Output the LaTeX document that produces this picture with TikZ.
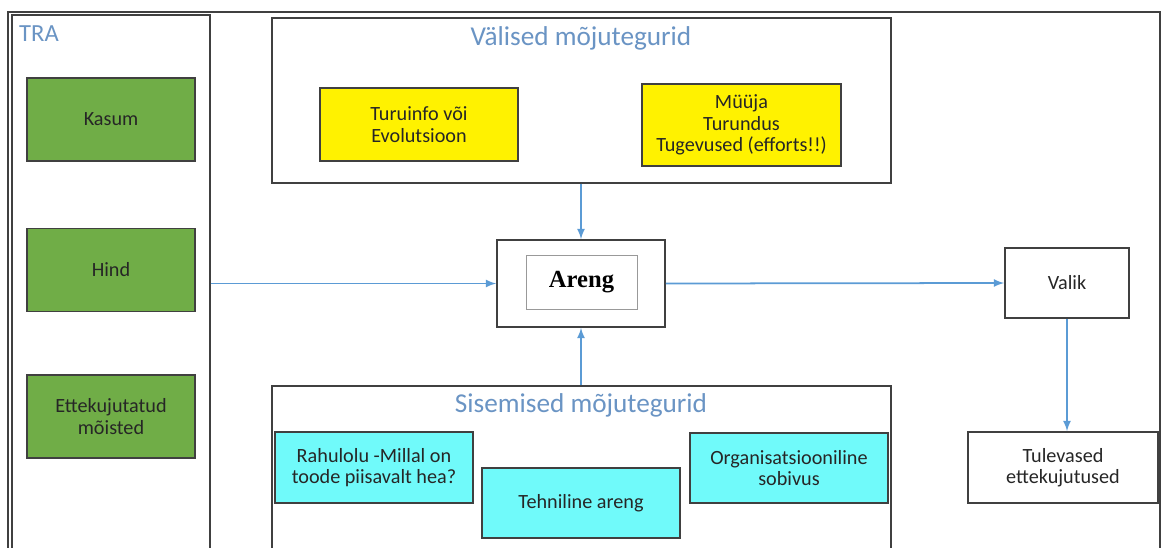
\documentclass[tikz,border=0pt]{standalone}
\usepackage{fontspec}
\setmainfont{Carlito}
\newfontfamily\arengfont{Liberation Serif}
\usepackage{tikz}
\usetikzlibrary{positioning}

\definecolor{lineblue}{HTML}{5B9BD5}
\definecolor{titleblue}{HTML}{6A94C4}
\definecolor{boxgreen}{HTML}{70AD47}
\definecolor{boxcyan}{HTML}{70FAFA}
\definecolor{boxgray}{HTML}{404040}

\tikzset{
  box/.style={draw=boxgray, line width=1pt, fill=white, align=center,
    inner sep=0pt, font=\fontsize{11.5}{12.2}\selectfont, text=black!85},
  greenbox/.style={box, fill=boxgreen, minimum width=3.36cm, minimum height=1.66cm},
  yellowbox/.style={box, fill=yellow},
  cyanbox/.style={box, fill=boxcyan, minimum width=3.96cm, minimum height=1.41cm},
  group/.style={draw=boxgray, line width=0.8pt, fill=white},
  grouptitle/.style={text=titleblue, font=\fontsize{15.5}{18}\selectfont},
  flow/.style={-latex, draw=lineblue, line width=1pt}
}

\begin{document}
\begin{tikzpicture}[x=0.02cm,y=-0.02cm]
          \clip (0,0) rectangle (1161,548);
          \useasboundingbox (0,0) rectangle (1161,548);
          \draw[boxgray, line width=0.6pt] (8,12) rectangle (1160,600);
          % TRA
          \node[group, minimum width=3.96cm, minimum height=11.4cm] (tra) at (111,300) {};
          \node[text=titleblue, font=\fontsize{14}{16}\selectfont, anchor=west] (tratitle) at (13,34) {TRA};
          \node[greenbox] (kasum) at (111,119.5) {Kasum};
          \node[greenbox] (hind) at (111,270) {Hind};
          \node[greenbox] (ette) at (111,416.5) {Ettekujutatud\\mõisted};
          % valised
          \node[group, minimum width=12.38cm, minimum height=3.3cm] (valised) at (581.5,100.5) {};
          \node[grouptitle] (valtitle) at (581,38) {Välised mõjutegurid};
          \node[yellowbox, minimum width=3.96cm, minimum height=1.46cm] (turu) at (419,124.5) {Turuinfo või\\Evolutsioon};
          \node[yellowbox, minimum width=3.98cm, minimum height=1.64cm] (myyja) at (741.5,125) {Müüja\\Turundus\\Tugevused (efforts!!)};
          % sisemised
          \node[group, minimum width=12.38cm, minimum height=4cm] (sisemised) at (581.5,486) {};
          \node[grouptitle] (sistitle) at (581,405) {Sisemised mõjutegurid};
          \node[cyanbox] (rahul) at (374,467.5) {Rahulolu -Millal on\\toode piisavalt hea?};
          \node[cyanbox] (tehn) at (581,503) {Tehniline areng};
          \node[cyanbox] (org) at (789,468) {Organisatsiooniline\\sobivus};
          % keskel
          \node[box, minimum width=3.36cm, minimum height=1.74cm] (areng) at (581,283.5) {};
          \node[draw=black!40, line width=0.4pt, minimum width=2.22cm, minimum height=1.08cm,
                font=\arengfont\bfseries\fontsize{14}{16}\selectfont] (arengin) at (581.5,282) {Areng};
          \node[box, minimum width=2.48cm, minimum height=1.4cm] (valik) at (1067,283) {Valik};
          \node[box, minimum width=3.8cm, minimum height=1.42cm] (tulev) at (1063,467.5) {Tulevased\\ettekujutused};
          % nooled
          \draw[flow] (tra.east |- areng.west) -- (areng.west);
          \draw[flow] (valised.south -| areng.north) -- (areng.north);
          \draw[flow] (sisemised.north -| areng.south) -- (areng.south);
          \draw[flow] (areng.east) -- (valik.west);
          \draw[flow] (valik.south) -- (valik.south |- tulev.north);
        \end{tikzpicture}
\end{document}
